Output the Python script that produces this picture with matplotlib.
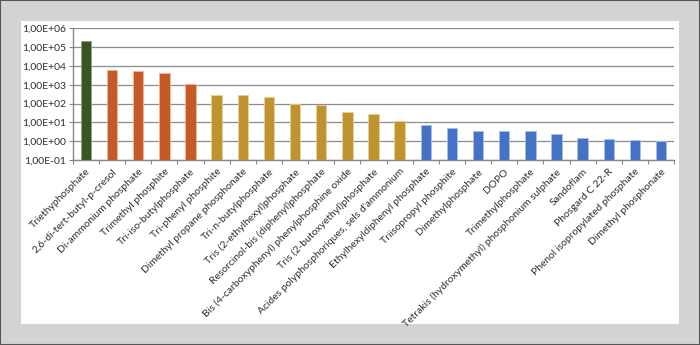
import matplotlib
matplotlib.use("Agg")
import matplotlib.pyplot as plt
from matplotlib.patches import Rectangle
from matplotlib.ticker import FixedLocator, FuncFormatter, NullLocator
import numpy as np

compounds = [
    "Triethyphosphate",
    "2,6-di-tert-butyl-p-cresol",
    "Di-ammonium phosphate",
    "Trimethyl phosphite",
    "Tri-iso-butylphosphate",
    "Tri-phenyl phosphite",
    "Dimethyl propane phosphonate",
    "Tri-n-butylphosphate",
    "Tris (2-ethylhexyl)phosphate",
    "Resorcinol-bis (diphenyl)phosphate",
    "Bis (4-carboxyphenyl) phenylphosphine oxide",
    "Tris (2-butoxyethyl)phosphate",
    "Acides polyphosphoriques, sels d'ammonium",
    "Ethylhexyldiphenyl phosphate",
    "Triisopropyl phosphite",
    "Dimethylphosphate",
    "DOPO",
    "Trimethylphosphate",
    "Tetrakis (hydroxymethyl) phosphonium sulphate",
    "Sandoflam",
    "Phosgard C 22-R",
    "Phenol isopropylated phosphate",
    "Dimethyl phosphonate",
]
values = [2.0e5, 6300, 5400, 4200, 1100, 275, 275, 224, 93, 88, 34, 27,
          11.7, 6.9, 5.0, 3.5, 3.5, 3.4, 2.5, 1.45, 1.3, 1.18, 1.0]
groups = [0] + [1] * 4 + [2] * 8 + [3] * 10
group_colors = ["#375623", "#c55a28", "#bf9430", "#4472c4"]
group_edges = ["#8fa47f", "#f0b898", "#e8cf96", "#a9c0ea"]

plt.rcParams["font.family"] = ["Lato", "DejaVu Sans"]

fig = plt.figure(figsize=(7.0, 3.45), dpi=100)
fig.patch.set_facecolor("#d2d3d5")

# outer frame
fig.add_artist(Rectangle((0, 0), 1, 1, transform=fig.transFigure,
                         facecolor="none", edgecolor="#555555",
                         linewidth=1.5, zorder=-10))
# white panel
fig.add_artist(Rectangle((0.030, 0.061), 0.940, 0.878,
                         transform=fig.transFigure, facecolor="white",
                         edgecolor="none", zorder=-10))

ax = fig.add_axes([0.104, 0.536, 0.859, 0.382])
ax.set_facecolor("none")
ax.set_zorder(1)

x = np.arange(len(compounds))
colors = [group_colors[g] for g in groups]
edges = [group_edges[g] for g in groups]
floor = 0.1
ax.bar(x, np.array(values) - floor, width=0.4, color=colors, edgecolor=edges,
       linewidth=0.6, zorder=3, bottom=floor)

ax.set_yscale("log")
ax.set_ylim(0.1, 1e6)
ax.set_xlim(-0.5, len(compounds) - 0.5)

decades = [10.0 ** k for k in range(-1, 7)]
ax.yaxis.set_major_locator(FixedLocator(decades))
ax.yaxis.set_minor_locator(NullLocator())


def sci_comma(v, pos):
    s = f"{v:.2E}"
    return s.replace(".", ",")


ax.yaxis.set_major_formatter(FuncFormatter(sci_comma))
ax.grid(axis="y", color="#8c8c8c", linewidth=0.9, zorder=0)

ax.set_xticks(x)
ax.set_xticklabels(compounds, rotation=45, ha="right", va="top",
                   rotation_mode="anchor", fontsize=7.5, color="#2e2e2e")
ax.tick_params(axis="x", which="major", length=0, pad=5)
ax.set_xticks(np.arange(len(compounds) + 1) - 0.5, minor=True)
ax.tick_params(axis="x", which="minor", length=3, color="#888888",
               width=0.8, direction="out")
ax.tick_params(axis="y", labelsize=7.5, labelcolor="#2e2e2e", length=3,
               color="#888888", width=0.8, pad=2)

for side in ["top", "right"]:
    ax.spines[side].set_visible(False)
for side in ["left", "bottom"]:
    ax.spines[side].set_color("#888888")
    ax.spines[side].set_linewidth(1.0)

fig.savefig("out.png", dpi=100, facecolor=fig.get_facecolor())
